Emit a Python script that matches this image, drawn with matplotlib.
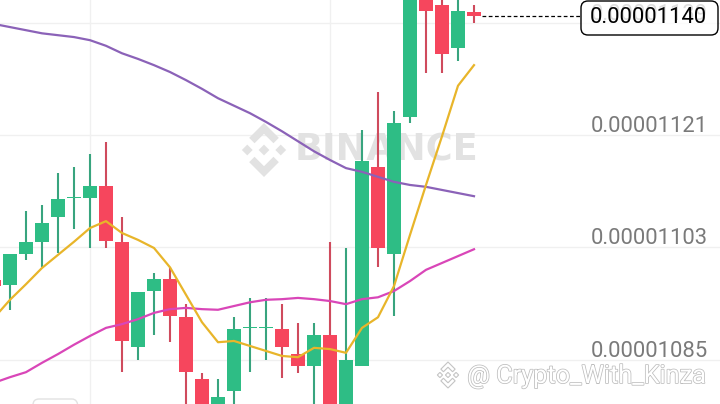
"""Candlestick chart with MA lines, Binance style."""

import matplotlib

matplotlib.use("Agg")
import matplotlib.pyplot as plt
import matplotlib.transforms as mtransforms
from matplotlib.patches import FancyBboxPatch, Polygon
import matplotlib.patheffects as pe

# prices in units of 1e-8
opens = [1097.8, 1097.0, 1101.9, 1103.9, 1107.9, 1110.9, 1110.9, 1112.8, 1103.9, 1087.0,
         1096.0, 1097.9, 1091.8, 1081.9, 1076.5, 1080.0, 1090.0, 1090.0, 1089.9, 1085.9,
         1084.0, 1089.0, 1076.5, 1084.0, 1115.9, 1101.9, 1123.9, 1143.5, 1141.8, 1134.9,
         1140.7]
highs = [1099.2, 1101.9, 1108.8, 1109.8, 1114.9, 1115.9, 1118.0, 1119.9, 1107.9, 1095.8,
         1098.9, 1099.8, 1093.9, 1082.9, 1081.9, 1091.8, 1094.9, 1094.9, 1093.9, 1090.9,
         1090.9, 1103.9, 1102.9, 1121.8, 1127.9, 1124.8, 1145.0, 1144.5, 1143.0, 1143.0,
         1141.8]
lows = [1095.4, 1093.0, 1101.0, 1099.8, 1102.1, 1105.9, 1102.9, 1102.9, 1083.0, 1084.9,
        1089.0, 1087.8, 1076.0, 1075.5, 1075.5, 1076.0, 1083.0, 1084.9, 1082.1, 1082.9,
        1076.0, 1075.0, 1075.5, 1084.0, 1099.8, 1092.0, 1122.9, 1130.9, 1130.9, 1132.9,
        1139.0]
closes = [1096.8, 1101.9, 1103.9, 1106.9, 1110.7, 1111.1, 1112.8, 1104.0, 1088.0, 1095.8,
          1097.9, 1092.0, 1083.0, 1076.5, 1079.0, 1089.9, 1090.2, 1090.2, 1087.0, 1084.0,
          1089.0, 1076.0, 1084.9, 1116.8, 1102.9, 1122.9, 1144.0, 1140.9, 1134.0, 1140.9,
          1140.0]

ma7 = [1091.7, 1094.6, 1097.1, 1099.7, 1101.8, 1103.9, 1106.1, 1107.2, 1105.3, 1104.2,
       1102.9, 1099.8, 1095.4, 1091.0, 1087.8, 1088.0, 1087.2, 1086.4, 1085.6, 1085.4,
       1086.9, 1086.7, 1086.1, 1090.1, 1091.8, 1096.8, 1105.0, 1113.0, 1120.8, 1128.9,
       1132.2]
ma25 = [1081.3, 1082.2, 1083.0, 1084.5, 1085.9, 1087.4, 1088.8, 1090.1, 1090.7, 1091.5,
        1092.5, 1093.1, 1093.3, 1093.1, 1093.0, 1093.6, 1094.2, 1094.6, 1094.7, 1094.9,
        1094.7, 1094.4, 1093.9, 1094.7, 1095.0, 1096.0, 1097.6, 1099.4, 1100.5, 1101.6,
        1102.7]
ma99 = [1138.8, 1138.3, 1137.8, 1137.3, 1137.0, 1136.7, 1136.2, 1135.3, 1134.1, 1133.2,
        1132.2, 1131.1, 1129.8, 1128.4, 1126.9, 1125.7, 1124.5, 1123.1, 1121.6, 1120.0,
        1118.4, 1117.0, 1115.7, 1115.1, 1114.3, 1113.5, 1113.0, 1112.7, 1112.2, 1111.7,
        1111.2]

price_ticks = [1085, 1103, 1121, 1139]
last_price = 1140
grid_x = [6, 21]

GREEN = "#2EBD85"
RED = "#F6465D"
GREEN_WICK = "#38A47E"
RED_WICK = "#CF4B5D"

fig = plt.figure(figsize=(7.2, 4.04), dpi=100)
ax = fig.add_axes([0, 0, 1, 1])
ax.set_xlim(0.375, 45.375)
ax.set_ylim(1077.9, 1142.64)
ax.axis("off")

for v in price_ticks:
    ax.axhline(v, color="#F0F0F0", lw=1.0, zorder=0)
for gx in grid_x:
    ax.axvline(gx, color="#F0F0F0", lw=1.0, zorder=0)

# watermark
ax.text(0.537, 0.628, "BINANCE", transform=ax.transAxes, fontsize=26.5,
        fontweight="heavy", family="DejaVu Sans", color="#E2E2E2",
        ha="center", va="center", zorder=0.5)


def logo(cx, cy, r, face, edge, z):
    # Binance logo, drawn in pixel coords (origin bottom-left)
    shapes = [
        [(0, 0.2), (0.2, 0), (0, -0.2), (-0.2, 0)],
        [(0.62, 0.2), (0.82, 0), (0.62, -0.2), (0.42, 0)],
        [(-0.62, 0.2), (-0.42, 0), (-0.62, -0.2), (-0.82, 0)],
        [(0, 1.0), (0.55, 0.45), (0.35, 0.25), (0, 0.6), (-0.35, 0.25), (-0.55, 0.45)],
        [(0, -1.0), (0.55, -0.45), (0.35, -0.25), (0, -0.6), (-0.35, -0.25), (-0.55, -0.45)],
    ]
    for s in shapes:
        pts = [(cx + px * r, 404 - cy + py * r) for px, py in s]
        fig.patches.append(Polygon(pts, closed=True, facecolor=face, edgecolor=edge,
                                   lw=0.8, transform=mtransforms.IdentityTransform(),
                                   figure=fig, zorder=z))


logo(264, 150, 27, "#E2E2E2", "none", 0.5)

# candles
idx = list(range(len(opens)))
for i in idx:
    o, h, l, c = opens[i], highs[i], lows[i], closes[i]
    up = c >= o
    ax.vlines(i, l, h, color=GREEN_WICK if up else RED_WICK, lw=1.5, zorder=2)
    ax.bar(i, max(abs(c - o), 0.25), bottom=min(o, c), width=0.875,
           color=GREEN if up else RED, zorder=3)

ax.plot(idx, ma99, color="#8B62B8", lw=1.6, zorder=4)
ax.plot(idx, ma25, color="#D946B8", lw=1.6, zorder=4)
ax.plot(idx, ma7, color="#E8B52A", lw=1.6, zorder=4)

# price labels
lab_tr = mtransforms.blended_transform_factory(ax.transAxes, ax.transData)
lab_tr = mtransforms.offset_copy(lab_tr, fig=fig, y=3, units="dots")
for v in price_ticks:
    ax.text(0.983, v, f"{v * 1e-8:.8f}", transform=lab_tr, ha="right", va="baseline",
            fontsize=15.8, family="Roboto", color="#7A7A7A", zorder=5)

# current price line and box
ax.hlines(last_price, 30.5, 36.65, color="black", lw=0.9, linestyles=(0, (3, 2)), zorder=5)
box = FancyBboxPatch((581, 404 - 35), 137, 34, boxstyle="round,pad=0,rounding_size=7",
                     facecolor=(1, 1, 1, 0.75), edgecolor="black", lw=1.0,
                     transform=mtransforms.IdentityTransform(), figure=fig, zorder=6)
fig.patches.append(box)
fig.text(707 / 720, 1 - 17.5 / 404, f"{last_price * 1e-8:.8f}", ha="right", va="center",
         fontsize=15.8, family="Roboto", color="black", zorder=7)

# bottom-left button outline
btn = FancyBboxPatch((33, -10), 45, 15, boxstyle="round,pad=0,rounding_size=6",
                     facecolor="none", edgecolor="#E2E2E2", lw=1.0,
                     transform=mtransforms.IdentityTransform(), figure=fig, zorder=6)
fig.patches.append(btn)

# user watermark
logo(448, 375, 13, "white", "#C4C4C4", 6)
fig.text(706 / 720, 1 - 376 / 404, "@ Crypto_With_Kinza", ha="right", va="center",
         fontsize=18.2, family="Roboto", color="white", zorder=7,
         path_effects=[pe.withStroke(linewidth=1.1, foreground="#BDBDBD")])

fig.savefig("out.png", dpi=100)
